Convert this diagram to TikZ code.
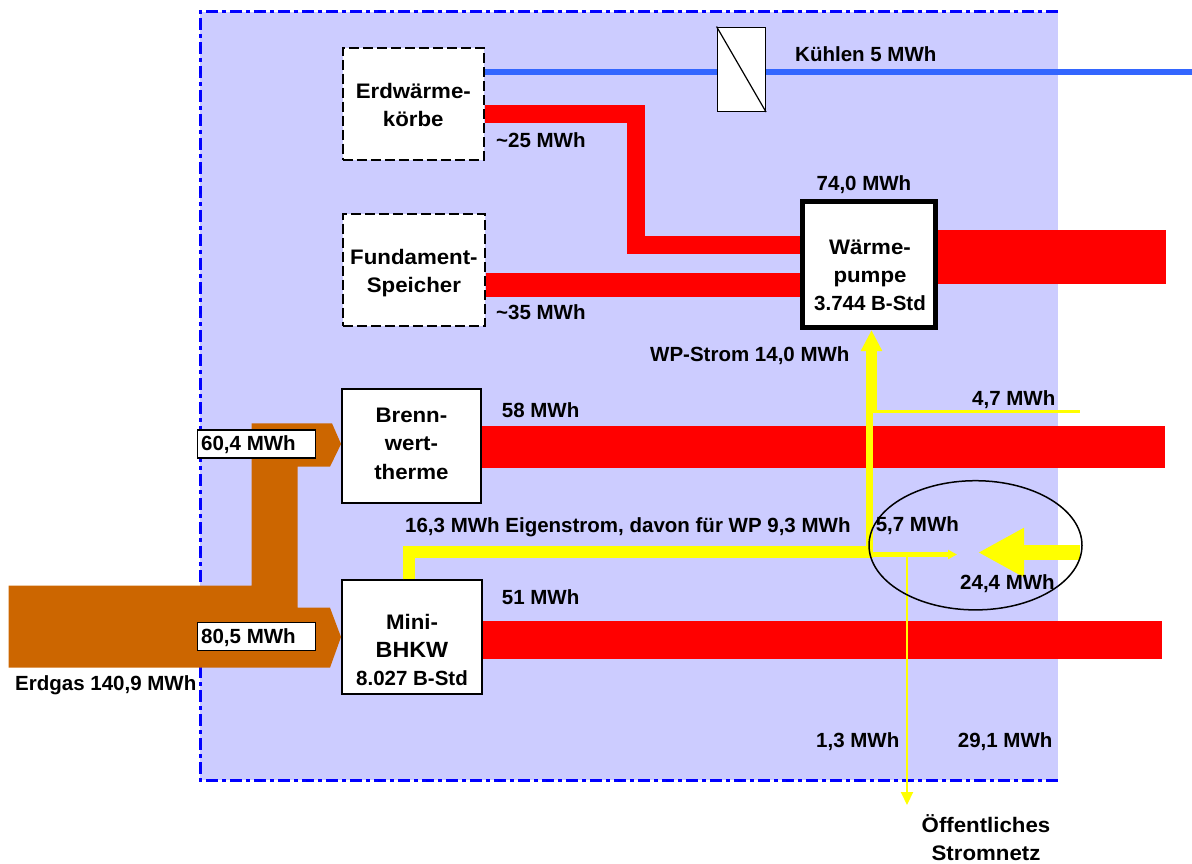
\documentclass[tikz,border=0pt]{standalone}
\usepackage{fontspec}
\setmainfont{Liberation Sans}
\newfontfamily\boxfont[FakeStretch=1.06]{Liberation Sans}
\usetikzlibrary{arrows.meta}
\definecolor{lav}{HTML}{CCCCFF}
\definecolor{heatred}{HTML}{FF0000}
\definecolor{gasbrown}{HTML}{CC6600}
\definecolor{elyellow}{HTML}{FFFF00}
\definecolor{coolblue}{HTML}{3366FF}
\definecolor{frameblue}{HTML}{0000FF}
\begin{document}
\begin{tikzpicture}[x=1pt,y=-1pt,
  lbl/.style={inner sep=0pt, anchor=base west, font=\bfseries\fontsize{20.5}{24}\selectfont},
  boxtxt/.style={inner sep=0pt, anchor=base, font=\boxfont\bfseries\fontsize{21}{25}\selectfont},
  box/.style={draw=black, line width=2pt, fill=white, inner sep=0pt},
  dbox/.style={box, dash pattern=on 10pt off 4pt},
  heat/.style={draw=heatred, line width=#1},
  elec/.style={draw=elyellow, line width=#1},
]
\useasboundingbox (0,0) rectangle (1192,864);
% system boundary
\fill[lav] (200,12) rectangle (1058,780);
\draw[frameblue, line width=3pt, dash pattern=on 12pt off 4pt on 4pt off 4pt]
  (1058,12) -- (200,12) -- (200,780) -- (1058,780);

% boxes
\node[dbox, minimum width=141pt, minimum height=112pt] (erd) at (413.2,103.7) {};
\node[dbox, minimum width=142pt, minimum height=112pt] (fund) at (413.9,269.5) {};
\node[box, minimum width=138.7pt, minimum height=114pt] (brenn) at (411.4,446.3) {};
\node[box, minimum width=140pt, minimum height=114pt] (bhkw) at (412,637.3) {};
\node[box, line width=5pt, minimum width=133pt, minimum height=126pt] (wp) at (869,264.5) {};

% cooling line and heat exchanger
\coordinate (coolend) at (1192,72.3);
\draw[coolblue, line width=6pt] (erd.east |- coolend) -- (coolend);
\node[draw=black, fill=white, line width=1.5pt, inner sep=0pt, minimum width=48pt, minimum height=84pt] (hx) at (741.3,69.3) {};
\draw[line width=1.2pt] (hx.north west) -- (hx.south east);

% heat flows
\coordinate (wpout) at (1166,257);
\coordinate (brennout) at (1165,447);
\coordinate (bhkwout) at (1162,640);
\draw[heat=18pt] (erd.east |- 0,114) -| (636.3,244.5) -- (wp.west |- 0,244.5);
\draw[heat=24pt] (fund.east |- 0,284.7) -- (wp.west |- 0,284.7);
\draw[heat=54pt] (wp.east |- wpout) -- (wpout);
\draw[heat=42pt] (brenn.east |- brennout) -- (brennout);
\draw[heat=38pt] (bhkw.east |- bhkwout) -- (bhkwout);

% gas
\fill[gasbrown] (8.7,585.7) -- (251.7,585.7) -- (251.7,423.3) -- (332,423.3)
  -- (brenn.west |- 0,444) -- (330,466.7) -- (297.7,466.7) -- (297.7,607.7)
  -- (330,607.7) -- (bhkw.west |- 0,637) -- (330,667.7) -- (8.7,667.7) -- cycle;
\node[box, line width=1.5pt, minimum width=118pt, minimum height=28pt] (g60) at (256.7,444) {};
\node[box, line width=1.5pt, minimum width=118pt, minimum height=28pt] (g80) at (256.7,636.7) {};

% electricity
\draw[elec=12pt] (bhkw.north -| 409.3,0) -- (409.3,551.5) -- (873,551.5);
\draw[elec=7pt] (869.5,557.3) -- (869.5,411);
\draw[elec=11pt, -{Triangle[width=20pt,length=21pt]}] (871.5,412) -- (wp.south -| 871.5,0);
\draw[elec=3pt] (873,411.7) -- (1080,411.7);
\coordinate (net) at (907,805);
\draw[elec=5pt, -{Triangle[width=9pt,length=9pt]}] (873,554.5) -- (957,554.5);
\draw[elec=2pt, -{Triangle[width=12pt,length=13pt]}] (net |- 0,556) -- (net);
\draw[elec=15pt, -{Triangle[width=46pt,length=46pt]}] (1080,552.5) -- (978,552.5);
\draw[line width=1.5pt] (975.5,545.3) ellipse [x radius=106.5pt, y radius=64.6pt];

% box texts
\node[boxtxt] (e1) at (413.3,98.3) {Erdwärme-};
\node[boxtxt] (e2) at (413.3,126.7) {körbe};
\node[boxtxt] (f1) at (413.9,264) {Fundament-};
\node[boxtxt] (f2) at (413.9,292.7) {Speicher};
\node[boxtxt] (b1) at (411.4,422.3) {Brenn-};
\node[boxtxt] (b2) at (411.4,450.7) {wert-};
\node[boxtxt] (b3) at (411.4,479) {therme};
\node[boxtxt] (m1) at (412,629) {Mini-};
\node[boxtxt, font=\boxfont\bfseries\fontsize{22}{26}\selectfont] (m2) at (412,657.7) {BHKW};
\node[boxtxt, font=\bfseries\fontsize{20.5}{24}\selectfont] (m3) at (412,685) {8.027 B-Std};
\node[boxtxt] (w1) at (870,254) {Wärme-};
\node[boxtxt] (w2) at (870,282.7) {pumpe};
\node[boxtxt, font=\bfseries\fontsize{20.5}{24}\selectfont] (w3) at (870,310) {3.744 B-Std};

% labels
\node[lbl] (tkuehl) at (795,62) {Kühlen 5 MWh};
\node[lbl] (t25) at (496,148) {\textasciitilde25 MWh};
\node[lbl] (t35) at (496,319) {\textasciitilde35 MWh};
\node[lbl, anchor=base] (t74) at (864,190) {74,0 MWh};
\node[lbl] (twp) at (650,361) {WP-Strom 14,0 MWh};
\node[lbl] (t47) at (972,405) {4,7 MWh};
\node[lbl] (t58) at (501.7,417.3) {58 MWh};
\node[lbl] (teig) at (405,532) {16,3 MWh Eigenstrom, davon für WP 9,3 MWh};
\node[lbl] (t57) at (875.6,531.7) {5,7 MWh};
\node[lbl] (t244) at (960,589) {24,4 MWh};
\node[lbl] (t51) at (501.7,604.3) {51 MWh};
\node[lbl] (t604) at (201,450) {60,4 MWh};
\node[lbl] (t805) at (201,643.3) {80,5 MWh};
\node[lbl] (terd) at (15,690) {Erdgas 140,9 MWh};
\node[lbl] (t13) at (816,747) {1,3 MWh};
\node[lbl] (t291) at (957.7,747) {29,1 MWh};
\node[boxtxt] (toeff1) at (986,832.3) {Öffentliches};
\node[boxtxt] (toeff2) at (986,860.7) {Stromnetz};
\end{tikzpicture}
\end{document}
